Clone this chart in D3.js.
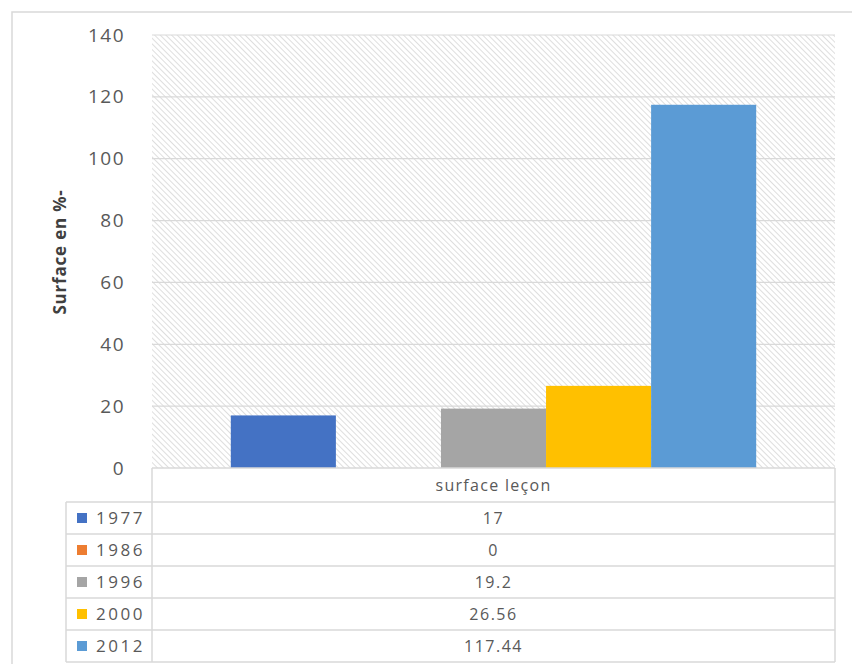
<!DOCTYPE html>
<html>
<head>
<meta charset="utf-8">
<script src="https://cdn.jsdelivr.net/npm/d3@7"></script>
<style>
  body { margin: 0; background: #fff; }
  text { font-family: "Open Sans", sans-serif; fill: #595959; }
</style>
</head>
<body>
<div id="chart"></div>
<script>
// data
var category = "surface leçon";
var years = ["1977", "1986", "1996", "2000", "2012"];
var values = [17, 0, 19.2, 26.56, 117.44];
var valueLabels = ["17", "0", "19.2", "26.56", "117.44"];
var colors = ["#4472C4", "#ED7D31", "#A5A5A5", "#FFC000", "#5B9BD5"];
var yTicks = [0, 20, 40, 60, 80, 100, 120, 140];

var width = 852, height = 664;
var plot = {left: 152, right: 835, top: 35, bottom: 468};
var rowH = 32, headerH = 34, legendLeft = 66;

var svg = d3.select("#chart").append("svg")
  .attr("width", width)
  .attr("height", height);

// hatch pattern for plot background
var defs = svg.append("defs");
defs.append("pattern")
  .attr("id", "hatch")
  .attr("width", 4).attr("height", 4)
  .attr("patternUnits", "userSpaceOnUse")
  .attr("patternTransform", "rotate(-45)")
  .append("line")
    .attr("x1", 0).attr("y1", 0).attr("x2", 0).attr("y2", 4)
    .attr("stroke", "#d0d0d0").attr("stroke-width", 1.4);

// outer border (top and left)
svg.append("path")
  .attr("d", "M12," + height + "V12H" + width)
  .attr("fill", "none").attr("stroke", "#d9d9d9").attr("stroke-width", 1.5);

var y = d3.scaleLinear().domain([0, 140]).range([plot.bottom, plot.top]);
var x0 = d3.scaleBand().domain([category]).range([plot.left, plot.right]);
var x1 = d3.scaleBand().domain(years)
  .range([x0(category), x0(category) + x0.bandwidth()])
  .paddingInner(0).paddingOuter(0.75);

svg.append("rect")
  .attr("x", plot.left).attr("y", plot.top)
  .attr("width", plot.right - plot.left).attr("height", plot.bottom - plot.top)
  .attr("fill", "url(#hatch)");

// gridlines
svg.append("g").selectAll("line")
  .data(yTicks.filter(function(d) { return d > 0; }))
  .enter().append("line")
    .attr("x1", plot.left).attr("x2", plot.right)
    .attr("y1", function(d) { return y(d); })
    .attr("y2", function(d) { return y(d); })
    .attr("stroke", "#d9d9d9").attr("stroke-width", 1.2);

// y axis labels
var yAxis = d3.axisLeft(y).tickValues(yTicks).tickSize(0).tickPadding(27);
var gy = svg.append("g")
  .attr("transform", "translate(" + plot.left + ",0)")
  .call(yAxis);
gy.select(".domain").remove();
gy.selectAll("text")
  .style("font-family", "'Open Sans', sans-serif")
  .style("font-size", "19px")
  .style("letter-spacing", "1.5px")
  .style("fill", "#595959");

// y title
svg.append("text")
  .attr("transform", "translate(66,252) rotate(-90)")
  .attr("text-anchor", "middle")
  .style("font-size", "17px")
  .style("font-weight", "bold")
  .style("letter-spacing", "0.8px")
  .style("fill", "#404040")
  .text("Surface en %-");

// bars
svg.append("g").selectAll("rect")
  .data(years)
  .enter().append("rect")
    .attr("x", function(d) { return x1(d); })
    .attr("width", x1.bandwidth())
    .attr("y", function(d, i) { return y(values[i]); })
    .attr("height", function(d, i) { return y(0) - y(values[i]); })
    .attr("fill", function(d, i) { return colors[i]; });

// data table
var table = svg.append("g");
var tableBottom = plot.bottom + headerH + years.length * rowH;
var lineColor = "#d9d9d9";

table.append("rect")
  .attr("x", plot.left).attr("y", plot.bottom)
  .attr("width", plot.right - plot.left).attr("height", tableBottom - plot.bottom)
  .attr("fill", "#fff");
table.append("rect")
  .attr("x", legendLeft).attr("y", plot.bottom + headerH)
  .attr("width", plot.left - legendLeft).attr("height", years.length * rowH)
  .attr("fill", "#fff");

// horizontal lines
table.append("line")
  .attr("x1", plot.left).attr("x2", plot.right)
  .attr("y1", plot.bottom).attr("y2", plot.bottom)
  .attr("stroke", lineColor).attr("stroke-width", 1.5);
table.selectAll("line.row")
  .data(d3.range(years.length + 1))
  .enter().append("line")
    .attr("class", "row")
    .attr("x1", legendLeft).attr("x2", plot.right)
    .attr("y1", function(i) { return plot.bottom + headerH + i * rowH; })
    .attr("y2", function(i) { return plot.bottom + headerH + i * rowH; })
    .attr("stroke", lineColor).attr("stroke-width", 1.5);
// vertical lines
[[plot.left, plot.bottom], [plot.right, plot.bottom], [legendLeft, plot.bottom + headerH]].forEach(function(v) {
  table.append("line")
    .attr("x1", v[0]).attr("x2", v[0])
    .attr("y1", v[1]).attr("y2", tableBottom)
    .attr("stroke", lineColor).attr("stroke-width", 1.5);
});

var midX = x0(category) + x0.bandwidth() / 2;
table.append("text")
  .attr("x", midX).attr("y", plot.bottom + headerH / 2)
  .attr("dy", "0.35em")
  .attr("text-anchor", "middle")
  .style("font-size", "16px")
  .style("letter-spacing", "1.3px")
  .text(category);

var rows = table.selectAll("g.r")
  .data(years)
  .enter().append("g")
    .attr("class", "r")
    .attr("transform", function(d, i) {
      return "translate(0," + (plot.bottom + headerH + i * rowH + rowH / 2) + ")";
    });
rows.append("rect")
  .attr("x", 77).attr("y", -5)
  .attr("width", 10).attr("height", 10)
  .attr("fill", function(d, i) { return colors[i]; });
rows.append("text")
  .attr("x", 96).attr("dy", "0.35em")
  .style("font-size", "17px")
  .style("letter-spacing", "2.5px")
  .text(function(d) { return d; });
rows.append("text")
  .attr("x", midX).attr("dy", "0.35em")
  .attr("text-anchor", "middle")
  .style("font-size", "16px")
  .style("letter-spacing", "1.5px")
  .text(function(d, i) { return valueLabels[i]; });
</script>
</body>
</html>
